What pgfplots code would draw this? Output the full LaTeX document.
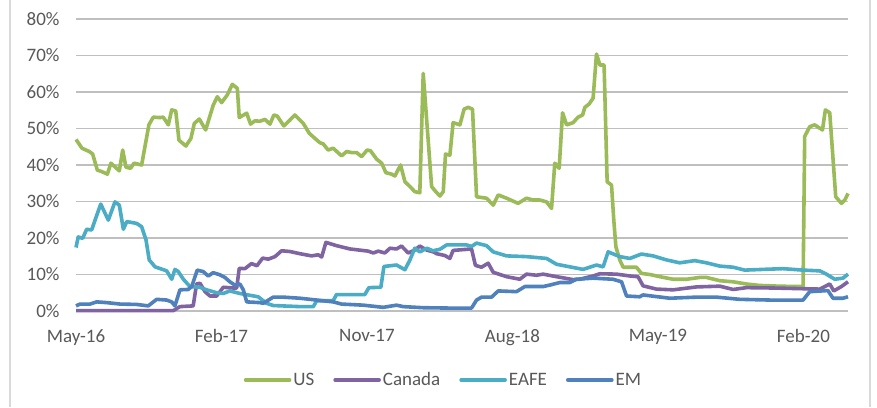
\documentclass[border=0pt]{standalone}
\usepackage{pgfplots}
\pgfplotsset{compat=1.18}
\usepackage{fontspec}
\setmainfont{Carlito}
\definecolor{cUS}{HTML}{9BBB59}
\definecolor{cCA}{HTML}{8064A2}
\definecolor{cEAFE}{HTML}{4BACC6}
\definecolor{cEM}{HTML}{4F81BD}
\definecolor{grid}{HTML}{D9D9D9}
\definecolor{txt}{HTML}{595959}
\begin{document}
\begin{tikzpicture}
\useasboundingbox (0,0) rectangle (877pt,407pt);
\fill[white] (0,0) rectangle (877pt,407pt);
\draw[grid, line width=1.2pt] (10pt,0) -- (10pt,407pt);
\draw[grid, line width=1.2pt] (870pt,0) -- (870pt,407pt);
\begin{axis}[
  at={(76pt,96pt)}, anchor=south west,
  scale only axis, width=772pt, height=292pt,
  xmin=0, xmax=47.76, ymin=0, ymax=80,
  axis line style={draw=none},
  xtick={0,9,18,27,36,45},
  xticklabels={May-16,Feb-17,Nov-17,Aug-18,May-19,Feb-20},
  ytick={0,10,20,30,40,50,60,70,80},
  yticklabels={0\%,10\%,20\%,30\%,40\%,50\%,60\%,70\%,80\%},
  major tick length=0pt, tick style={draw=none},
  xmajorgrids=false, ymajorgrids=true, grid style={grid, line width=1.2pt},
  tick label style={font=\fontsize{19}{22}\selectfont, text=txt},
  xticklabel style={yshift=-15pt},
  yticklabel style={xshift=-13pt},
  legend style={at={(0.476,-0.236)}, anchor=center, draw=none, fill=none,
    font=\fontsize{19}{22}\selectfont, text=txt, legend columns=4,
    /tikz/every even column/.append style={column sep=17pt}},
  legend image code/.code={\draw[#1, line cap=round] (0pt,0pt) -- (44pt,0pt);},
  every axis plot/.append style={line width=3.6pt, line join=round, mark=none},
  clip=false,
]
\addplot[cUS] coordinates {
(0.00,47.0)(0.37,44.6)(0.82,43.7)(1.03,43.0)(1.32,38.6)(1.59,38.2)(1.94,37.5)(2.16,40.5)
(2.68,38.4)(2.89,44.1)(3.09,39.4)(3.38,39.1)(3.59,40.5)(4.06,40.0)(4.51,51.0)(4.78,53.1)
(5.19,53.0)(5.40,53.1)(5.71,51.0)(5.92,55.1)(6.17,54.8)(6.37,46.8)(6.80,45.2)(7.11,47.3)
(7.32,51.4)(7.63,52.6)(8.02,49.6)(8.49,56.4)(8.74,58.7)(9.01,57.1)(9.36,59.2)(9.67,62.1)
(9.98,61.0)(10.10,53.0)(10.56,54.2)(10.80,51.2)(11.07,52.1)(11.38,52.0)(11.69,52.5)(12.00,51.2)
(12.24,53.7)(12.45,53.4)(12.86,50.7)(13.23,52.3)(13.54,53.7)(14.06,51.4)(14.43,48.7)(14.78,47.3)
(15.09,46.1)(15.29,45.8)(15.60,44.1)(15.91,44.6)(16.43,42.5)(16.74,43.7)(17.05,43.4)(17.36,43.4)
(17.67,42.3)(18.01,44.1)(18.22,43.9)(18.60,41.6)(18.91,40.5)(19.17,37.9)(19.52,37.5)(19.73,37.0)
(20.08,40.0)(20.35,35.4)(20.66,34.1)(20.96,32.7)(21.27,32.4)(21.48,65.1)(22.00,34.1)(22.20,33.0)
(22.51,31.5)(22.72,32.7)(22.86,43.0)(23.13,42.7)(23.33,51.6)(23.75,51.0)(24.01,55.3)(24.26,55.8)
(24.53,55.3)(24.78,31.3)(25.40,30.9)(25.81,29.0)(26.12,31.8)(26.64,30.9)(27.35,29.5)(27.87,30.9)
(28.28,30.4)(28.70,30.4)(29.11,29.9)(29.42,28.1)(29.62,40.5)(29.89,39.1)(30.10,54.3)(30.35,51.0)
(30.75,51.6)(31.06,53.1)(31.34,53.7)(31.48,55.8)(31.74,56.7)(31.99,58.3)(32.20,70.4)(32.41,67.4)
(32.67,67.4)(32.86,35.4)(33.13,34.5)(33.27,24.9)(33.40,17.6)(33.64,14.0)(33.85,12.0)(34.67,12.0)
(34.98,10.3)(35.50,10.0)(36.12,9.4)(36.94,8.7)(37.77,8.7)(38.59,9.2)(39.00,9.2)(39.83,8.3)
(40.65,8.0)(41.48,7.4)(42.30,7.0)(43.54,6.8)(44.77,6.7)(44.98,6.7)(45.08,47.8)(45.39,50.5)
(45.70,51.0)(46.18,49.6)(46.36,55.1)(46.63,54.3)(47.00,31.3)(47.35,29.5)(47.56,30.4)(47.76,32.2)
};
\addlegendentry{US}
\addplot[cCA] coordinates {
(0,0.1)(6.02,0.1)(6.43,1.2)(7.25,1.4)(7.46,7.4)(7.67,7.6)(7.98,5.3)(8.29,4.1)(8.70,4.1)
(9.11,6.5)(9.73,6.3)(9.94,6.3)(10.10,11.7)(10.45,11.6)(10.86,13.0)(11.19,12.4)(11.55,14.5)
(11.89,14.2)(12.31,14.9)(12.72,16.5)(13.23,16.3)(13.85,15.7)(14.58,15.1)(14.98,15.4)(15.20,14.8)
(15.46,18.8)(16.12,17.9)(16.95,17.0)(18.08,16.4)(18.39,15.9)(18.70,16.4)(19.11,15.9)(19.42,17.2)
(19.83,17.0)(20.14,17.8)(20.55,15.9)(20.96,16.7)(21.27,17.8)(21.69,16.7)(22.10,16.2)(22.31,15.7)
(22.82,15.2)(23.13,14.4)(23.33,16.6)(24.47,17.0)(24.71,12.5)(25.09,12.0)(25.50,13.1)(25.81,10.6)
(26.64,9.4)(27.46,8.7)(27.87,10.1)(28.49,9.8)(28.90,10.1)(29.73,9.4)(30.75,8.6)(31.17,8.7)
(31.99,9.6)(32.41,10.2)(33.44,10.1)(34.26,9.6)(34.77,9.4)(35.08,6.9)(35.91,6.0)(36.94,5.8)
(38.39,6.6)(39.83,6.8)(40.65,5.9)(41.48,6.4)(43.12,6.3)(46.01,6.0)(46.63,7.4)(46.88,5.5)
(47.35,6.7)(47.76,8.0)
};
\addlegendentry{Canada}
\addplot[cEAFE] coordinates {
(0,17.4)(0.14,20.3)(0.41,19.9)(0.66,22.4)(0.97,22.2)(1.18,24.9)(1.53,29.3)(2.00,24.9)
(2.41,29.9)(2.68,29.0)(2.93,22.4)(3.14,24.5)(3.75,24.0)(4.06,23.1)(4.33,19.5)(4.53,14.0)
(4.89,12.1)(5.61,11.0)(5.92,8.7)(6.12,11.4)(6.33,10.8)(6.64,8.7)(7.05,6.7)(7.67,6.5)
(8.08,5.8)(8.70,5.0)(9.11,4.8)(9.52,5.5)(10.14,4.8)(10.76,4.3)(11.27,3.9)(11.79,2.1)
(12.20,1.5)(13.85,1.2)(14.68,1.2)(14.89,2.8)(15.91,2.8)(16.11,4.5)(17.87,4.5)(18.12,6.4)
(18.86,6.5)(19.05,12.2)(19.83,12.6)(20.35,11.3)(20.66,14.0)(20.96,17.2)(21.27,16.2)(21.71,17.2)
(22.08,16.5)(22.51,16.9)(22.93,18.1)(24.16,18.1)(24.47,17.7)(24.78,18.6)(25.40,17.9)(25.81,16.2)
(26.64,15.1)(27.87,14.9)(29.11,14.4)(29.73,12.8)(30.55,12.1)(31.37,11.4)(32.20,12.6)(32.61,12.1)
(32.92,16.2)(33.64,14.9)(34.26,14.4)(34.98,15.6)(35.70,15.1)(36.53,14.0)(37.35,13.2)(38.28,13.8)
(39.00,13.2)(39.83,12.3)(40.65,12.0)(41.37,11.2)(42.50,11.4)(43.74,11.6)(44.98,11.2)(46.01,11.0)
(46.42,10.1)(46.94,8.7)(47.45,9.0)(47.76,10.1)
};
\addlegendentry{EAFE}
\addplot[cEM] coordinates {
(0,1.4)(0.25,1.9)(0.87,1.9)(1.28,2.5)(1.90,2.3)(2.72,1.9)(3.75,1.8)(4.47,1.4)(4.99,3.2)
(5.61,3.0)(5.92,2.5)(6.12,1.4)(6.43,5.8)(6.94,5.9)(7.16,6.7)(7.50,11.2)(7.87,10.8)(8.18,9.6)
(8.49,10.5)(8.91,9.9)(9.21,9.2)(9.52,8.0)(9.83,7.1)(10.14,7.4)(10.35,5.8)(10.56,2.5)(11.38,2.3)
(11.58,2.1)(12.20,3.8)(12.82,3.8)(13.85,3.5)(14.89,3.0)(15.91,2.5)(16.43,1.9)(17.77,1.6)
(18.60,1.2)(19.00,1.0)(19.83,1.6)(20.24,1.2)(21.48,0.9)(23.13,0.8)(24.47,0.8)(24.78,3.0)
(25.09,3.8)(25.71,3.8)(26.12,5.5)(27.25,5.3)(27.77,6.7)(28.90,6.7)(29.31,7.1)(29.93,7.8)
(30.55,7.8)(30.96,8.7)(31.99,9.0)(33.22,8.7)(33.75,8.0)(34.06,4.1)(34.88,3.9)(35.08,4.4)
(36.73,3.5)(38.39,3.8)(39.62,3.8)(41.06,3.2)(42.92,3.0)(44.98,3.0)(45.39,5.3)(46.52,5.6)
(46.83,3.5)(47.45,3.5)(47.76,3.9)
};
\addlegendentry{EM}
\end{axis}
\end{tikzpicture}
\end{document}
